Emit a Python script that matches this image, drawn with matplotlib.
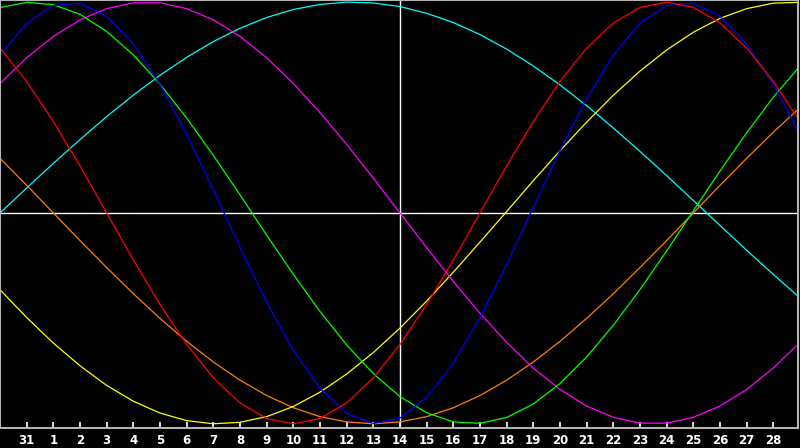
import numpy as np
import matplotlib
matplotlib.use('Agg')
import matplotlib.pyplot as plt
import matplotlib.ticker as plticker

# day index 0 = Jan 30, one value per day
days = list(range(31))
tick_pos = list(range(1, 30))
tick_labels = ['31'] + [str(d) for d in range(1, 29)]
today = 15

red = [0.782, 0.624, 0.434, 0.223, 0.0, -0.223, -0.434, -0.624, -0.782, -0.901,
       -0.975, -1.0, -0.975, -0.901, -0.782, -0.624, -0.434, -0.223, 0.0, 0.223,
       0.434, 0.624, 0.782, 0.901, 0.975, 1.0, 0.975, 0.901, 0.782, 0.624, 0.434]
blue = [0.749, 0.900, 0.984, 0.995, 0.933, 0.801, 0.610, 0.373, 0.109, -0.163,
        -0.423, -0.652, -0.832, -0.951, -0.999, -0.973, -0.875, -0.712, -0.496, -0.244,
        0.027, 0.296, 0.543, 0.749, 0.900, 0.984, 0.995, 0.933, 0.801, 0.610, 0.373]
green = [0.974, 0.999, 0.988, 0.942, 0.861, 0.750, 0.611, 0.450, 0.273, 0.086,
         -0.105, -0.291, -0.467, -0.626, -0.762, -0.871, -0.948, -0.991, -0.998, -0.970,
         -0.906, -0.809, -0.683, -0.533, -0.363, -0.180, 0.010, 0.199, 0.380, 0.549, 0.697]
magenta = [0.614, 0.736, 0.837, 0.916, 0.969, 0.997, 0.997, 0.969, 0.916, 0.837,
           0.736, 0.614, 0.476, 0.325, 0.165, 0.0, -0.165, -0.325, -0.476, -0.614,
           -0.736, -0.837, -0.916, -0.969, -0.997, -0.997, -0.969, -0.916, -0.837, -0.736, -0.614]
cyan = [0.0, 0.118, 0.235, 0.348, 0.457, 0.559, 0.653, 0.738, 0.813, 0.876,
        0.927, 0.965, 0.989, 1.0, 0.996, 0.979, 0.947, 0.903, 0.846, 0.777,
        0.697, 0.607, 0.509, 0.403, 0.292, 0.177, 0.059, -0.059, -0.177, -0.292, -0.403]
yellow = [-0.364, -0.496, -0.617, -0.725, -0.818, -0.893, -0.949, -0.985, -1.0, -0.993,
          -0.966, -0.918, -0.850, -0.764, -0.662, -0.546, -0.418, -0.281, -0.138, 0.007,
          0.153, 0.295, 0.431, 0.558, 0.673, 0.773, 0.857, 0.923, 0.969, 0.995, 0.999]
orange = [0.259, 0.131, 0.0, -0.131, -0.259, -0.383, -0.5, -0.609, -0.707, -0.793,
          -0.866, -0.924, -0.966, -0.991, -1.0, -0.991, -0.966, -0.924, -0.866, -0.793,
          -0.707, -0.609, -0.5, -0.383, -0.259, -0.131, 0.0, 0.131, 0.259, 0.383, 0.5]

series = [(cyan, '#00ffff'), (orange, '#ff8000'), (yellow, '#ffff00'),
          (magenta, '#ff00ff'), (green, '#00ff00'), (blue, '#0000ff'), (red, '#ff0000')]

fig = plt.figure(figsize=(8, 4.48), dpi=100)
fig.patch.set_facecolor('black')
ax = fig.add_axes([0.0, 20 / 448, 798 / 800, 428 / 448])
ax.set_facecolor('black')

ax.axhline(0, color='white', lw=1.0, zorder=1)
ax.axvline(today, color='white', lw=1.0, zorder=1)

for vals, col in series:
    ax.plot(days, vals, color=col, lw=0.9, zorder=2)

ax.set_xlim(0, 30 * 798 / 800)
ax.set_ylim(-1.02, 1.01)

ax.xaxis.set_major_locator(plticker.FixedLocator(tick_pos))
ax.set_xticklabels(tick_labels)
ax.set_yticks([])
ax.tick_params(axis='x', direction='in', length=4, width=1.2, colors='white', pad=4,
               labelsize=8.5)
for lab in ax.get_xticklabels():
    lab.set_fontweight('bold')

for side in ['left', 'top', 'bottom', 'right']:
    ax.spines[side].set_color('#b4b4b4')
    ax.spines[side].set_linewidth(1.5)

plt.savefig('out.png', facecolor='black')
plt.close()
